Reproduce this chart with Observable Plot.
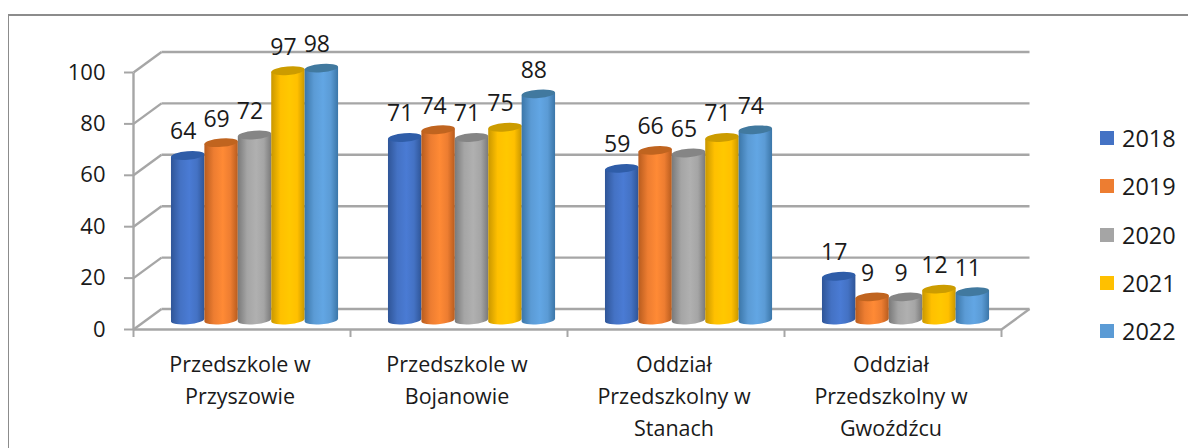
<!DOCTYPE html>
<html><head><meta charset="utf-8">
<script src="https://cdn.jsdelivr.net/npm/d3@7"></script>
<script src="https://cdn.jsdelivr.net/npm/@observablehq/plot@0.6"></script>
<style>
html,body{margin:0;padding:0;background:#fff}
#chart{position:relative;width:1188px;height:448px;overflow:hidden}
#frame{position:absolute;left:8px;top:14px;width:1300px;height:600px;border:1px solid #8c8c8c;border-top-width:2px}
#legend{position:absolute;left:1100px;top:114px;font:23.5px "Open Sans",sans-serif;color:#1a1a1a}
#legend div{position:absolute;left:0;white-space:nowrap;line-height:48px;height:48px}
#legend i{position:absolute;left:0;top:17px;width:14px;height:14px}
#legend span{position:absolute;left:22px}
svg{position:absolute;left:0;top:0;background:transparent}
</style></head><body><div id="chart"><div id="frame"></div></div>
<script>
const categories = ["Przedszkole w\nPrzyszowie","Przedszkole w\nBojanowie","Oddział\nPrzedszkolny w\nStanach","Oddział\nPrzedszkolny w\nGwoźdźcu"];
const years = ["2018","2019","2020","2021","2022"];
const v2018 = [64,71,59,17];
const v2019 = [69,74,66,9];
const v2020 = [72,71,65,9];
const v2021 = [97,75,71,12];
const v2022 = [98,88,74,11];
const series = [v2018,v2019,v2020,v2021,v2022];
const base = ["#4472c4","#ed7d31","#a5a5a5","#ffc000","#5b9bd5"];
const bright = ["#4a7bd4","#ff8a35","#b0b0b0","#ffc800","#62a6e4"];
const dark = ["#2f5597","#b85c1e","#7a7a7a","#c99700","#3b76a8"];
const cap = ["#2f5da8","#c0641f","#858585","#cc9c00","#41799f"];
const yTicks = [0,20,40,60,80,100];

const groupStart = 0.175, barW = 0.154, depthX = 28/217, depthY = 20.5/2.57;

const rows = [];
categories.forEach((c,i)=>years.forEach((yr,j)=>rows.push({
  year: yr, value: series[j][i],
  x1: i+groupStart+j*barW, x2: i+groupStart+(j+1)*barW, j
})));

function defs(){
  const d = d3.create("svg:defs");
  years.forEach((y,j)=>{
    const g = d.append("linearGradient").attr("id","g"+y);
    [[0,dark[j]],[.28,base[j]],[.55,bright[j]],[.78,base[j]],[1,dark[j]]]
      .forEach(([o,c])=>g.append("stop").attr("offset",o).attr("stop-color",c));
  });
  return d.node();
}
function cylinder(index, scales, values, dims, ctx, next){
  const g = next(index, scales, values, dims, ctx);
  const ry = 4.2, t = 1.4;
  d3.select(g).selectAll("rect").each(function(_,k){
    const r = d3.select(this);
    const x=+r.attr("x"), y=+r.attr("y"), w=+r.attr("width"), h=+r.attr("height");
    const i = index[k], rx=w/2, rot=Math.atan2(-2*t,w)*180/Math.PI;
    const parent = this.parentNode;
    d3.select(parent).insert("path",()=>this)
      .attr("fill",r.attr("fill"))
      .attr("d",`M${x},${y+t}L${x},${y+h+t}A${rx},${ry} ${rot} 0 0 ${x+w},${y+h-t}L${x+w},${y-t}Z`);
    d3.select(parent).insert("path",()=>this)
      .attr("fill",cap[rows[i].j])
      .attr("d",`M${x},${y+t}A${rx},${ry} ${rot} 1 1 ${x+w},${y-t}A${rx},${ry} ${rot} 1 1 ${x},${y+t}Z`);
    r.remove();
  });
  return g;
}

const wall = {stroke:"#a6a6a6", strokeWidth:2.4};
const plot = Plot.plot({
  width:1188, height:448, marginLeft:133, marginRight:187, marginTop:72, marginBottom:119,
  style:{fontFamily:"'Open Sans',sans-serif", color:"#1a1a1a", background:"transparent", overflow:"visible"},
  x:{domain:[0,4], axis:null, label:null},
  y:{domain:[0,100], axis:null, label:null},
  color:{domain:years, range:years.map(y=>`url(#g${y})`)},
  marks:[
    defs,
    Plot.link(yTicks,{x1:()=>depthX,x2:()=>4+depthX,y1:d=>d+depthY,y2:d=>d+depthY,...wall}),
    Plot.link(yTicks,{x1:()=>0,x2:()=>depthX,y1:d=>d,y2:d=>d+depthY,...wall}),
    Plot.link([0],{x1:()=>4,x2:()=>4+depthX,y1:0,y2:depthY,...wall}),
    Plot.link([0],{x1:()=>0,x2:()=>4,y1:0,y2:0,...wall}),
    Plot.link([0],{x1:()=>0,x2:()=>0,y1:0,y2:100,...wall}),
    Plot.axisY({ticks:yTicks,tickSize:9,stroke:"#a6a6a6",strokeWidth:2,tickPadding:19,fontSize:22,anchor:"left",label:null}),
    Plot.axisX({ticks:[0,1,2,3,4],tickSize:8,stroke:"#a6a6a6",strokeWidth:2,tickFormat:()=>"",anchor:"bottom",label:null}),
    Plot.axisX({ticks:[0.5,1.5,2.5,3.5],tickSize:0,tickPadding:20,fontSize:21.5,lineHeight:1.48,lineAnchor:"top",dx:-2,
      tickFormat:d=>categories[Math.floor(d)],anchor:"bottom",label:null}),
    Plot.rectY(rows,{x1:"x1",x2:"x2",y1:0,y2:"value",fill:"year",dy:-9,render:cylinder}),
    Plot.text(rows,{x:d=>(d.x1+d.x2)/2,y:"value",text:"value",fontSize:23,dx:-5,dy:-33,fill:"#1a1a1a"})
  ]
});
const root=document.getElementById("chart");
root.appendChild(plot);
const lg=document.createElement("div");lg.id="legend";
years.forEach((y,j)=>{
  const d=document.createElement("div");d.style.top=(j*48.3)+"px";
  d.innerHTML=`<i style="background:${base[j]}"></i><span>${y}</span>`;
  lg.appendChild(d);
});
root.appendChild(lg);
</script></body></html>
